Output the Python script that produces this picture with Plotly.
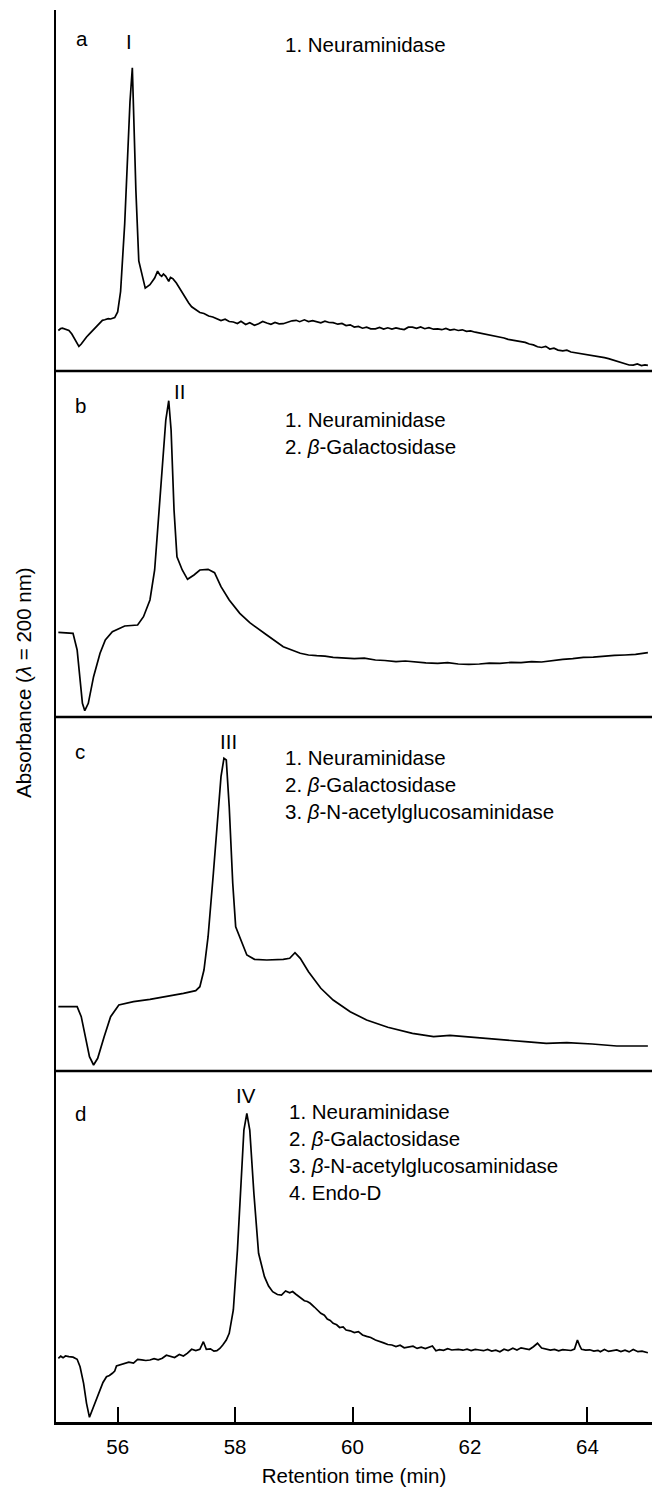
import plotly.graph_objects as go

# ---------------- data (retention time in min, absorbance in arbitrary units) ----------------
time_a = [54.99, 55.03, 55.06, 55.10, 55.17, 55.22, 55.27, 55.34, 55.38, 55.42, 55.47, 55.52, 55.58, 55.63,
          55.68, 55.74, 55.78, 55.84, 55.88, 55.95, 56.00, 56.05, 56.12, 56.18, 56.21, 56.25, 56.27, 56.31,
          56.36, 56.41, 56.47, 56.55, 56.63, 56.68, 56.72, 56.75, 56.78, 56.82, 56.85, 56.87, 56.90, 56.94,
          57.00, 57.05, 57.10, 57.16, 57.21, 57.26, 57.33, 57.40, 57.47, 57.55, 57.62, 57.69, 57.76, 57.83,
          57.90, 57.97, 58.04, 58.10, 58.18, 58.25, 58.33, 58.40, 58.47, 58.54, 58.61, 58.68, 58.75, 58.82,
          58.90, 58.97, 59.04, 59.10, 59.18, 59.25, 59.32, 59.39, 59.46, 59.53, 59.60, 59.67, 59.75, 59.82,
          59.89, 59.96, 60.03, 60.10, 60.17, 60.24, 60.31, 60.39, 60.46, 60.53, 60.60, 60.67, 60.74, 60.81,
          60.88, 60.95, 61.02, 61.09, 61.16, 61.23, 61.30, 61.38, 61.45, 61.52, 61.59, 61.66, 61.73, 61.80,
          61.87, 61.94, 62.01, 62.09, 62.16, 62.23, 62.30, 62.37, 62.44, 62.51, 62.58, 62.65, 62.72, 62.80,
          62.87, 62.94, 63.01, 63.08, 63.15, 63.22, 63.29, 63.36, 63.43, 63.50, 63.58, 63.65, 63.72, 63.79,
          63.86, 63.93, 64.00, 64.08, 64.15, 64.22, 64.29, 64.36, 64.43, 64.50, 64.57, 64.64, 64.71, 64.78,
          64.85, 64.92, 64.98, 65.03]
abs_a = [40.5, 42.5, 42.9, 41.8, 40.5, 37.0, 32.0, 24.6, 27.0, 30.3, 34.0, 37.1, 41.0, 44.5,
         47.5, 50.7, 51.2, 52.4, 52.0, 53.4, 59.1, 79.5, 147.3, 228.6, 269.3, 303.2, 259.1, 181.2,
         110.0, 96.4, 82.9, 86.3, 93.0, 99.8, 96.0, 94.7, 97.0, 94.7, 92.0, 89.6, 93.5, 92.4,
         88.0, 82.9, 78.0, 72.7, 68.0, 64.2, 61.0, 58.5, 57.5, 55.0, 54.0, 52.4, 50.5, 51.8,
         49.5, 49.0, 47.5, 49.8, 46.5, 48.2, 45.8, 47.3, 49.5, 48.0, 46.7, 48.5, 47.2, 47.3,
         49.0, 50.2, 50.7, 49.3, 51.2, 49.5, 50.4, 49.6, 48.2, 49.8, 48.5, 48.3, 46.8, 47.6,
         45.5, 46.2, 43.9, 44.6, 42.8, 43.9, 42.1, 42.2, 43.5, 41.9, 43.2, 42.0, 43.1, 42.2,
         41.5, 43.8, 43.9, 42.6, 44.1, 42.3, 43.4, 41.8, 42.2, 41.3, 42.5, 40.9, 41.7, 40.5,
         41.2, 39.6, 40.1, 38.8, 38.0, 37.1, 36.3, 35.6, 34.2, 33.7, 33.0, 31.6, 31.0, 29.8,
         29.4, 28.6, 27.0, 26.1, 24.2, 23.5, 24.6, 22.0, 22.8, 20.9, 20.1, 20.8, 19.0, 18.4,
         17.6, 16.8, 16.2, 15.5, 14.6, 14.0, 13.4, 12.4, 11.2, 10.0, 9.0, 7.2, 6.0, 5.9,
         7.0, 5.5, 6.2, 5.6]

time_b = [54.99, 55.24, 55.31, 55.36, 55.40, 55.44, 55.50, 55.59, 55.70, 55.79, 55.91, 56.12, 56.34, 56.44,
          56.55, 56.63, 56.69, 56.76, 56.82, 56.87, 56.91, 56.96, 57.01, 57.10, 57.19, 57.30, 57.40, 57.54,
          57.65, 57.76, 57.90, 58.08, 58.25, 58.54, 58.82, 59.11, 59.25, 59.39, 59.53, 59.67, 59.85, 60.03,
          60.20, 60.39, 60.55, 60.74, 60.90, 61.09, 61.25, 61.45, 61.62, 61.80, 61.98, 62.16, 62.33, 62.51,
          62.70, 62.87, 63.05, 63.22, 63.40, 63.58, 63.75, 63.93, 64.10, 64.29, 64.46, 64.64, 64.82, 65.03]
abs_b = [84.7, 83.7, 67.0, 40.3, 13.7, 6.3, 13.7, 40.3, 63.7, 77.0, 85.3, 91.0, 92.0, 100.3,
         117.0, 147.0, 197.0, 253.7, 297.0, 316.3, 287.0, 207.0, 160.3, 147.0, 137.7, 142.0, 147.0, 147.7,
         144.3, 130.3, 117.0, 103.7, 94.3, 82.0, 70.3, 63.7, 62.0, 61.3, 60.9, 59.7, 59.3, 58.3,
         58.9, 57.0, 56.5, 55.3, 56.0, 54.7, 54.2, 53.7, 54.4, 53.0, 52.6, 53.0, 53.9, 53.7,
         54.6, 54.3, 55.4, 55.0, 56.4, 57.7, 58.3, 59.7, 59.9, 61.0, 61.6, 62.0, 62.6, 64.3]

time_c = [54.99, 55.31, 55.38, 55.45, 55.52, 55.59, 55.66, 55.77, 55.88, 56.02, 56.27, 56.55, 56.83, 57.12,
          57.33, 57.40, 57.47, 57.54, 57.63, 57.70, 57.76, 57.81, 57.85, 57.90, 57.96, 58.01, 58.10, 58.20,
          58.33, 58.54, 58.82, 58.93, 59.02, 59.11, 59.25, 59.46, 59.67, 59.96, 60.24, 60.60, 61.02, 61.38,
          61.66, 62.02, 62.51, 62.94, 63.30, 63.65, 64.08, 64.50, 65.03]
abs_c = [64.3, 64.3, 54.3, 34.3, 14.3, 6.0, 12.7, 34.3, 54.3, 66.0, 69.3, 71.7, 74.3, 77.7,
         80.3, 84.3, 101.0, 134.3, 197.7, 254.3, 294.3, 312.7, 311.0, 264.3, 187.7, 144.3, 131.0, 116.0,
         111.7, 111.0, 111.7, 112.7, 118.3, 112.7, 99.3, 82.7, 71.0, 59.3, 51.0, 43.7, 37.7, 34.3,
         35.7, 33.7, 31.7, 29.3, 27.7, 28.3, 27.0, 25.0, 25.0]

time_d = [54.99, 55.03, 55.07, 55.11, 55.17, 55.24, 55.31, 55.36, 55.42, 55.47, 55.52, 55.59, 55.64, 55.70,
          55.75, 55.81, 55.86, 55.91, 55.95, 55.98, 56.05, 56.12, 56.19, 56.27, 56.34, 56.41, 56.48, 56.55,
          56.62, 56.69, 56.76, 56.83, 56.90, 56.97, 57.05, 57.12, 57.19, 57.26, 57.33, 57.40, 57.46, 57.51,
          57.58, 57.64, 57.69, 57.74, 57.79, 57.85, 57.90, 57.97, 58.04, 58.10, 58.15, 58.20, 58.25, 58.32,
          58.40, 58.50, 58.57, 58.64, 58.72, 58.79, 58.86, 58.93, 58.98, 59.03, 59.10, 59.18, 59.23, 59.28,
          59.35, 59.40, 59.46, 59.52, 59.57, 59.62, 59.67, 59.73, 59.78, 59.84, 59.89, 59.96, 60.03, 60.10,
          60.17, 60.24, 60.31, 60.39, 60.46, 60.53, 60.60, 60.67, 60.74, 60.81, 60.88, 60.96, 61.03, 61.10,
          61.17, 61.24, 61.31, 61.36, 61.42, 61.48, 61.55, 61.62, 61.69, 61.76, 61.80, 61.88, 61.95, 62.02,
          62.09, 62.16, 62.23, 62.30, 62.37, 62.44, 62.51, 62.58, 62.65, 62.73, 62.80, 62.87, 62.94, 63.01,
          63.08, 63.15, 63.22, 63.30, 63.37, 63.44, 63.51, 63.58, 63.65, 63.72, 63.78, 63.83, 63.87, 63.90,
          63.97, 64.04, 64.11, 64.18, 64.22, 64.29, 64.36, 64.43, 64.50, 64.57, 64.64, 64.71, 64.78, 64.86,
          64.93, 65.03]
abs_d = [63.7, 65.8, 64.2, 66.0, 65.3, 64.8, 62.7, 55.3, 38.7, 18.7, 4.7, 15.3, 24.0, 33.7,
         39.5, 45.3, 46.5, 48.7, 51.0, 56.0, 57.2, 58.0, 59.8, 58.9, 62.7, 62.2, 61.5, 62.0,
         63.4, 62.1, 63.7, 66.8, 66.0, 64.5, 67.5, 66.0, 68.8, 72.7, 71.5, 72.7, 80.3, 72.7,
         73.2, 70.8, 71.3, 73.5, 77.0, 82.0, 88.7, 112.0, 172.0, 238.7, 292.0, 308.7, 292.0, 228.7,
         168.7, 145.3, 136.0, 130.3, 127.5, 127.0, 131.0, 129.2, 130.5, 128.0, 125.0, 121.3, 120.5, 118.7,
         115.0, 112.5, 108.7, 106.8, 103.0, 101.5, 98.7, 97.2, 94.5, 95.0, 92.0, 91.2, 89.5, 90.3,
         87.0, 85.6, 84.5, 82.0, 80.2, 79.1, 77.5, 77.0, 75.5, 76.8, 74.2, 74.7, 75.8, 73.6,
         74.8, 73.5, 74.7, 76.0, 71.3, 72.4, 71.6, 73.3, 72.0, 72.9, 72.7, 71.8, 72.9, 71.4,
         72.6, 72.0, 71.3, 72.5, 71.0, 71.8, 70.3, 72.8, 71.5, 73.7, 72.0, 74.2, 73.7, 72.5,
         75.3, 78.7, 74.0, 72.7, 71.9, 72.6, 71.2, 72.4, 72.0, 71.5, 73.0, 82.0, 76.0, 72.7,
         71.8, 72.2, 70.9, 71.7, 70.3, 72.5, 70.6, 71.4, 72.0, 70.4, 71.8, 70.1, 72.6, 70.3,
         70.8, 69.3]

panel_letters = ["a", "b", "c", "d"]
peak_labels = ["I", "II", "III", "IV"]
peak_label_times = [56.19, 57.05, 57.89, 58.18]
enzymes = ["1. Neuraminidase", "2. <i>β</i>-Galactosidase",
           "3. <i>β</i>-N-acetylglucosaminidase", "4. Endo-D"]
x_ticks = [56, 58, 60, 62, 64]
x_title = "Retention time (min)"
y_title = "Absorbance (<i>λ</i> = 200 nm)"

# ---------------- layout geometry ----------------
W, H = 652, 1488
ML, MR, MT, MB = 56, 0, 10, 66
PH = H - MT - MB
BOTTOM_PX = H - MB
X0, X1 = 54.95, 65.10
PXPM = (W - ML - MR) / (X1 - X0)


def py(ypx):
    return (BOTTOM_PX - ypx) / PH


def tx(xpx):
    return X0 + (xpx - ML) / PXPM


# panel tops/bottoms in pixels
panel_px = [(10, 371), (371, 717), (717, 1071), (1071, 1422)]
FONT = "Liberation Sans, Arial, Helvetica, sans-serif"
FS = 20.5

fig = go.Figure()
series = [(time_a, abs_a), (time_b, abs_b), (time_c, abs_c), (time_d, abs_d)]
yaxis_names = ["y4", "y3", "y2", "y"]
for (t, a), yn in zip(series, yaxis_names):
    fig.add_trace(go.Scatter(x=t, y=a, mode="lines", xaxis="x", yaxis=yn,
                             line=dict(color="black", width=1.7), showlegend=False,
                             hoverinfo="skip"))

layout = dict(
    width=W, height=H,
    margin=dict(l=ML, r=MR, t=MT, b=MB, pad=0),
    paper_bgcolor="white", plot_bgcolor="white",
    font=dict(family=FONT, size=FS, color="black"),
    showlegend=False,
    xaxis=dict(range=[X0, X1], tickvals=x_ticks, ticks="inside", ticklen=15,
               tickwidth=2, tickcolor="black", showline=True, linewidth=2.5, linecolor="black",
               showgrid=False, zeroline=False, anchor="y",
               tickfont=dict(size=FS, family=FONT), ticklabelstandoff=5,
               title=dict(text=x_title, font=dict(size=FS, family=FONT), standoff=12)),
)
for i, yn in enumerate(yaxis_names):
    top_px, bot_px = panel_px[i]
    key = "yaxis" if yn == "y" else "yaxis" + yn[1:]
    layout[key] = dict(domain=[py(bot_px), py(top_px)], range=[0, bot_px - top_px],
                       showline=True, linewidth=2, linecolor="black", ticks="",
                       showticklabels=False, showgrid=False, zeroline=False,
                       anchor="x")
fig.update_layout(**layout)

# panel separators (bottom of panels a, b, c)
for i in range(3):
    yb = py(panel_px[i][1])
    fig.add_shape(type="line", xref="paper", yref="paper", x0=0, x1=1, y0=yb, y1=yb,
                  line=dict(color="black", width=2.5))

ann = []
letter_pos = [(82, 39), (80, 405), (80, 751), (80, 1113)]
peak_y = [42, 391, 741, 1095]
text_x = [283, 283, 283, 287]
text_y0 = [45, 419, 757, 1111]
for i in range(4):
    lx, ly = letter_pos[i]
    ann.append(dict(text=panel_letters[i], xref="x", yref="paper",
                    x=tx(lx), y=py(ly), showarrow=False,
                    xanchor="center", yanchor="middle"))
    ann.append(dict(text=peak_labels[i], xref="x", yref="paper", x=peak_label_times[i],
                    y=py(peak_y[i]), showarrow=False, xanchor="center", yanchor="middle"))
    for j in range(i + 1):
        ann.append(dict(text=enzymes[j], xref="x", yref="paper",
                        x=tx(text_x[i]), y=py(text_y0[i] + 27 * j),
                        showarrow=False, xanchor="left", yanchor="middle"))
ann.append(dict(text=y_title, xref="paper", yref="paper", x=(23 - ML) / (W - ML - MR),
                y=py(683), showarrow=False, textangle=-90, xanchor="center", yanchor="middle"))
fig.update_layout(annotations=ann)

fig.write_html("out.html")
